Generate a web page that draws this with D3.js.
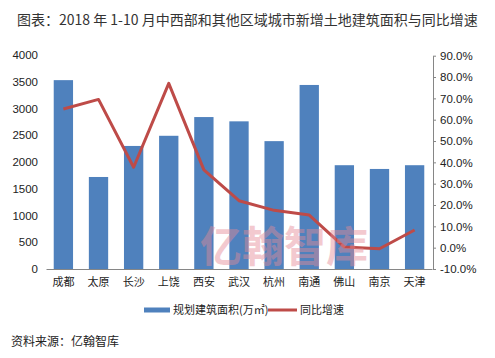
<!DOCTYPE html>
<html><head><meta charset="utf-8">
<script src="https://cdn.jsdelivr.net/npm/d3@7"></script>
<style>body{margin:0;background:#fff}svg{display:block}</style>
</head><body>
<script>
const categories = ["成都","太原","长沙","上饶","西安","武汉","杭州","南通","佛山","南京","天津"];
const areaValues = [3530,1720,2300,2490,2840,2760,2390,3440,1940,1870,1940];
const growthValues = [65.0,69.5,37.7,77.0,36.5,22.0,17.5,15.3,0.3,-0.5,8.3];
const leftTicks = [0,500,1000,1500,2000,2500,3000,3500,4000];
const rightTicks = [-10,0,10,20,30,40,50,60,70,80,90];

const W=495,H=358;
const svg=d3.select("body").append("svg").attr("width",W).attr("height",H);
const font="'Liberation Sans','Noto Sans CJK SC',sans-serif";
const cjk="'Noto Sans CJK SC',sans-serif";

const x=d3.scaleBand().domain(categories).range([46,432]).paddingInner(0.45).paddingOuter(0.22);
const y=d3.scaleLinear().domain([0,4000]).range([269,55]);
const y2=d3.scaleLinear().domain([-10,90]).range([269,55.7]);

svg.append("text").attr("x",17).attr("y",25).attr("font-family",cjk).attr("font-size",14).attr("fill","#333")
  .text("图表：2018 年 1-10 月中西部和其他区域城市新增土地建筑面积与同比增速");

// bars
svg.append("g").selectAll("rect").data(areaValues).join("rect")
  .attr("x",(d,i)=>x(categories[i])).attr("width",x.bandwidth())
  .attr("y",d=>y(d)).attr("height",d=>y(0)-y(d)).attr("fill","#4f81bd");

// left axis
const la=svg.append("g").attr("transform","translate(46,0)")
  .call(d3.axisLeft(y).tickValues(leftTicks).tickSize(0).tickPadding(8).tickFormat(d3.format("d")));
la.select(".domain").remove();
la.selectAll("text").attr("font-family",font).attr("font-size",11.5).attr("fill","#222");

// right axis
const ra=svg.append("g").attr("transform","translate(433,0)")
  .call(d3.axisRight(y2).tickValues(rightTicks).tickSizeInner(3).tickSizeOuter(0).tickPadding(4).tickFormat(d=>d.toFixed(1)+"%"));
ra.select(".domain").attr("stroke","#868686");
ra.selectAll(".tick line").attr("stroke","#868686");
ra.selectAll("text").attr("font-family",font).attr("font-size",11.5).attr("fill","#222");

// x axis
const xa=svg.append("g").attr("transform","translate(0,269)")
  .call(d3.axisBottom(x).tickSize(0).tickPadding(9).tickSizeOuter(0));
xa.select(".domain").attr("stroke","#868686");
xa.selectAll("text").attr("font-family",cjk).attr("font-size",11).attr("fill","#222");

// line
const line=d3.line().x((d,i)=>x(categories[i])+x.bandwidth()/2).y(d=>y2(d));
svg.append("path").datum(growthValues).attr("d",line).attr("fill","none")
  .attr("stroke","#be4b48").attr("stroke-width",3).attr("stroke-linejoin","round");

// watermark
svg.append("text").attr("x",200).attr("y",262).attr("font-family",cjk).attr("font-weight","bold")
  .attr("font-size",42).attr("fill","#e58a96").attr("opacity",0.45).text("亿翰智库");

// legend
svg.append("line").attr("x1",144).attr("x2",170).attr("y1",310).attr("y2",310).attr("stroke","#4f81bd").attr("stroke-width",5);
svg.append("text").attr("x",173).attr("y",314).attr("font-family",cjk).attr("font-size",11).attr("fill","#222").text("规划建筑面积(万㎡)");
svg.append("line").attr("x1",268).attr("x2",297).attr("y1",310).attr("y2",310).attr("stroke","#be4b48").attr("stroke-width",3);
svg.append("text").attr("x",300).attr("y",314).attr("font-family",cjk).attr("font-size",11).attr("fill","#222").text("同比增速");

svg.append("text").attr("x",11).attr("y",346).attr("font-family",cjk).attr("font-size",12).attr("fill","#222").text("资料来源：亿翰智库");
</script>
</body></html>
